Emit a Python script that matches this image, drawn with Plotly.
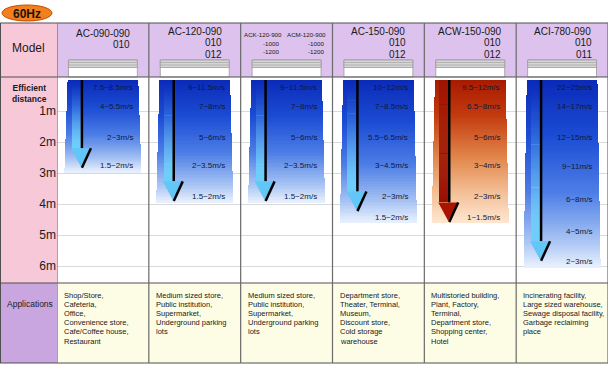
import plotly.graph_objects as go

# ---------------- data ----------------
freq_label = "60Hz"
model_names = ["AC-090-090", "AC-120-090", "ACK-120-900|ACM-120-900",
               "AC-150-090", "ACW-150-090", "ACI-780-090"]
model_variants = [["010"], ["010", "012"], ["-1000", "-1200"],
                  ["010", "012"], ["010", "012"], ["010", "011"]]
bar_length = [3.0, 3.97, 3.97, 4.6, 4.6, 6.05]       # m, coloured zone
arrow_length = [2.8, 3.87, 3.87, 4.2, 4.55, 5.8]     # m, arrow tip
bar_tone = ["blue", "blue", "blue", "blue", "orange", "blue"]
velocity_labels = [
    ["7.5~8.5m/s", "4~5.5m/s", "2~3m/s", "1.5~2m/s"],
    ["9~11.5m/s", "7~8m/s", "5~6m/s", "2~3.5m/s", "1.5~2m/s"],
    ["9~11.5m/s", "7~8m/s", "5~6m/s", "2~3.5m/s", "1.5~2m/s"],
    ["10~12m/s", "7~8.5m/s", "5.5~6.5m/s", "3~4.5m/s", "2~3m/s", "1.5~2m/s"],
    ["9.5~12m/s", "6.5~8m/s", "5~6m/s", "3~4m/s", "2~3m/s", "1~1.5m/s"],
    ["22~25m/s", "14~17m/s", "12~15m/s", "9~11m/s", "6~8m/s", "4~5m/s", "2~3m/s"],
]
velocity_depths = [
    [0.23, 0.87, 1.84, 2.77],
    [0.23, 0.87, 1.84, 2.77, 3.77],
    [0.23, 0.87, 1.84, 2.77, 3.77],
    [0.23, 0.87, 1.84, 2.76, 3.77, 4.45],
    [0.23, 0.87, 1.84, 2.77, 3.77, 4.45],
    [0.23, 0.87, 1.84, 2.8, 3.84, 4.9, 5.87],
]
applications = [
    ["Shop/Store,", "Cafeteria,", "Office,", "Convenience store,", "Cafe/Coffee house,", "Restaurant"],
    ["Medium sized store,", "Public institution,", "Supermarket,", "Underground parking", "lots"],
    ["Medium sized store,", "Public institution,", "Supermarket,", "Underground parking", "lots"],
    ["Department store,", "Theater, Terminal,", "Museum,", "Discount store,", "Cold storage", "warehouse"],
    ["Multistoried building,", "Plant, Factory,", "Terminal,", "Department store,", "Shopping center,", "Hotel"],
    ["Incinerating facility,", "Large sized warehouse,", "Sewage disposal facility,", "Garbage reclaiming", "place"],
]
distance_ticks = [1, 2, 3, 4, 5, 6]

# ---------------- geometry / style ----------------
W, H = 610, 370
PL, PR, PT, PB = 57, 608, 77, 283
NCOL = len(model_names)
U = (PR - PL) / NCOL          # px per column unit
Y0PX, PXM = 80, 31            # pixel of 0 m, px per metre
FONT = "Liberation Sans, Arial, sans-serif"

def pyp(py):  # pixel y -> paper
    return (PB - py) / (PB - PT)

def pxp(px):  # pixel x -> paper
    return (px - PL) / (PR - PL)

def hex2rgb(h):
    return tuple(int(h[i:i + 2], 16) for i in (1, 3, 5))

def interp(stops, t):
    for (t0, c0), (t1, c1) in zip(stops[:-1], stops[1:]):
        if t <= t1:
            f = (t - t0) / (t1 - t0) if t1 > t0 else 0
            a, b = hex2rgb(c0), hex2rgb(c1)
            return "rgb(%d,%d,%d)" % tuple(round(a[i] + (b[i] - a[i]) * f) for i in range(3))
    return stops[-1][1]

STOPS = {
    "blue": [(0, "#0a2ab8"), (0.3, "#1c4cd4"), (0.6, "#4d7ee6"), (0.85, "#a6c2f3"), (1, "#eaf1fd")],
    "orange": [(0, "#a81a00"), (0.25, "#c33a0e"), (0.55, "#e2874c"), (0.8, "#f4c199"), (1, "#fde6cf")],
}
HEAD = {"blue": "#62c6f6", "orange": "#a81400"}

fig = go.Figure()

# gradient bars (stacked thin segments)
N = 90
xs, bases, dys, ws, cols = [], [], [], [], []
for i, L in enumerate(bar_length):
    for k in range(N):
        f = (k + 0.5) / N
        xs.append(i)
        bases.append(L * k / N)
        dys.append(L / N * 1.02)
        ws.append(0.77 + 0.07 * f)
        cols.append(interp(STOPS[bar_tone[i]], f))
fig.add_trace(go.Bar(x=xs, y=dys, base=bases, width=ws,
                     marker=dict(color=cols, line=dict(width=0)),
                     hoverinfo="skip", showlegend=False))

# arrow shafts
HEAD_H = 0.6
sx, sb, sy, sw, sc = [], [], [], [], []
M = 60
for i, A in enumerate(arrow_length):
    top = A - HEAD_H
    for k in range(M):
        f = (k + 0.5) / M
        sx.append(i - 26.5 / U)
        sb.append(top * k / M)
        sy.append(top / M * 1.02)
        sw.append(9 / U)
        if bar_tone[i] == "blue":
            sc.append("rgba(110,206,250,%.3f)" % min(1, f ** 1.6 * 1.1))
        else:
            sc.append("rgba(150,14,0,%.3f)" % (0.55 + 0.45 * f))
fig.add_trace(go.Bar(x=sx, y=sy, base=sb, width=sw,
                     marker=dict(color=sc, line=dict(width=0)),
                     hoverinfo="skip", showlegend=False))

# black shaft lines, heads, shadows
lx, ly, hx_b, hy_b, hx_o, hy_o, shx, shy = [], [], [], [], [], [], [], []
for i, A in enumerate(arrow_length):
    top = A - HEAD_H
    lx += [i - 21 / U, i - 21 / U, None]
    ly += [0, top, None]
    hx = [i - 32 / U, i - 12 / U, i - 22 / U, i - 32 / U, None]
    hy = [top, top, A, top, None]
    if bar_tone[i] == "blue":
        hx_b += hx; hy_b += hy
    else:
        hx_o += hx; hy_o += hy
    shx += [i - 12 / U, i - 21 / U, None]
    shy += [top, A + 0.03, None]
fig.add_trace(go.Scatter(x=lx, y=ly, mode="lines", line=dict(color="#000000", width=2.5),
                         hoverinfo="skip", showlegend=False))
fig.add_trace(go.Scatter(x=hx_b, y=hy_b, mode="lines", fill="toself", fillcolor=HEAD["blue"],
                         line=dict(width=0, color=HEAD["blue"]), hoverinfo="skip", showlegend=False))
fig.add_trace(go.Scatter(x=hx_o, y=hy_o, mode="lines", fill="toself", fillcolor=HEAD["orange"],
                         line=dict(width=0, color=HEAD["orange"]), hoverinfo="skip", showlegend=False))
fig.add_trace(go.Scatter(x=shx, y=shy, mode="lines", line=dict(color="#000000", width=2.5),
                         hoverinfo="skip", showlegend=False))

ann = []

def add_text(x, y, text, size, xref="paper", yref="paper", xanchor="center", color="#1a1a1a"):
    ann.append(dict(x=x, y=y, xref=xref, yref=yref, text=text, showarrow=False,
                    xanchor=xanchor, yanchor="middle", borderpad=0,
                    font=dict(family=FONT, size=size, color=color)))

# velocity labels
for i in range(NCOL):
    for t, d in zip(velocity_labels[i], velocity_depths[i]):
        add_text(i + 31 / U, d, t, 8, xref="x", yref="y", xanchor="right", color="#101838")

shapes = []
# table backgrounds
shapes.append(dict(type="rect", xref="paper", yref="paper", x0=pxp(0), x1=pxp(PL), y0=pyp(283), y1=pyp(23),
                   fillcolor="#f7c8d8", line=dict(width=0), layer="below"))
shapes.append(dict(type="rect", xref="paper", yref="paper", x0=pxp(PL), x1=pxp(PR), y0=pyp(77), y1=pyp(23),
                   fillcolor="#dcc2ec", line=dict(width=0), layer="below"))
shapes.append(dict(type="rect", xref="paper", yref="paper", x0=pxp(0), x1=pxp(PL), y0=pyp(363), y1=pyp(283),
                   fillcolor="#c9a6e0", line=dict(width=0), layer="below"))
shapes.append(dict(type="rect", xref="paper", yref="paper", x0=pxp(PL), x1=pxp(PR), y0=pyp(363), y1=pyp(283),
                   fillcolor="#fdfde6", line=dict(width=0), layer="below"))
# unit icons
for i in range(NCOL):
    shapes.append(dict(type="rect", xref="x", yref="paper", x0=i - 0.375, x1=i + 0.375, y0=pyp(77), y1=pyp(60),
                       fillcolor="#ffffff", line=dict(color="#9a9a9a", width=0.8), layer="above"))
    shapes.append(dict(type="rect", xref="x", yref="paper", x0=i - 0.375, x1=i + 0.375, y0=pyp(67.5), y1=pyp(60),
                       fillcolor="#d6d6d6", line=dict(color="#9a9a9a", width=0.8), layer="above"))
    for yy in (62.5, 65):
        shapes.append(dict(type="line", xref="x", yref="paper", x0=i - 0.375, x1=i + 0.375, y0=pyp(yy), y1=pyp(yy),
                           line=dict(color="#a8a8a8", width=0.8), layer="above"))
# table lines
for yy in (23, 77, 283, 363):
    shapes.append(dict(type="line", xref="paper", yref="paper", x0=pxp(0), x1=pxp(PR), y0=pyp(yy), y1=pyp(yy),
                       line=dict(color="#505050", width=1.2), layer="above"))
shapes.append(dict(type="line", xref="paper", yref="paper", x0=pxp(0.5), x1=pxp(0.5), y0=pyp(23), y1=pyp(363),
                   line=dict(color="#505050", width=1), layer="above"))
for k in range(NCOL + 1):
    shapes.append(dict(type="line", xref="x", yref="paper", x0=k - 0.5, x1=k - 0.5, y0=pyp(23), y1=pyp(363),
                       line=dict(color="#6a6a6a", width=1.2), layer="above"))
# 60Hz badge
shapes.append(dict(type="circle", xref="paper", yref="paper", x0=pxp(2), x1=pxp(52), y0=pyp(21), y1=pyp(5),
                   fillcolor="#f2801c", line=dict(color="#c84a00", width=1), layer="above"))
add_text(pxp(27), pyp(13.5), "<b>%s</b>" % freq_label, 12, color="#1a1208")

# left label column
add_text(pxp(28), pyp(48), "Model", 12)
add_text(pxp(29), pyp(93), "<b>Efficient<br>distance</b>", 8.5)
add_text(pxp(29.5), pyp(304), "Applications", 8.5)

# model headers
for i in range(NCOL):
    if "|" in model_names[i]:
        for name, cen, right in zip(model_names[i].split("|"), (-24, 20), (-7, 38)):
            add_text(i + cen / U, pyp(34), name, 6.2, xref="x")
            for k, v in enumerate(model_variants[i]):
                add_text(i + right / U, pyp(43 + 8.5 * k), v, 6.2, xref="x", xanchor="right")
    else:
        name = model_names[i]
        hw = len(name) * 2.75
        y_first = 33 if len(model_variants[i]) == 1 else 31
        add_text(i, pyp(y_first), name, 10, xref="x")
        for k, v in enumerate(model_variants[i]):
            add_text(i + (hw + 1) / U, pyp(y_first + 11.5 * (k + 1)), v, 10, xref="x", xanchor="right")

# applications
for i in range(NCOL):
    for k, line in enumerate(applications[i]):
        add_text(i - 0.5 + 6 / U, pyp(295 + 9.2 * k), line, 7.5, xref="x", xanchor="left", color="#202020")

fig.update_layout(
    width=W, height=H,
    margin=dict(l=PL, r=W - PR, t=PT, b=H - PB, pad=0),
    paper_bgcolor="#ffffff", plot_bgcolor="rgba(0,0,0,0)",
    barmode="overlay", bargap=0, showlegend=False,
    xaxis=dict(range=[-0.5, NCOL - 0.5], showticklabels=False, showgrid=False, zeroline=False,
               showline=False, fixedrange=True, automargin=False),
    yaxis=dict(range=[(PB - Y0PX) / PXM, (PT - Y0PX) / PXM], tickvals=distance_ticks,
               ticktext=["%dm" % v for v in distance_ticks],
               tickfont=dict(family=FONT, size=12, color="#1a1a1a"),
               showgrid=True, gridcolor="#dadada", gridwidth=1, zeroline=False, showline=False,
               ticks="", fixedrange=True, automargin=False),
    shapes=shapes, annotations=ann,
)

fig.write_html("out.html", config={"displayModeBar": False},
               post_script="document.body.style.margin='0px';")
